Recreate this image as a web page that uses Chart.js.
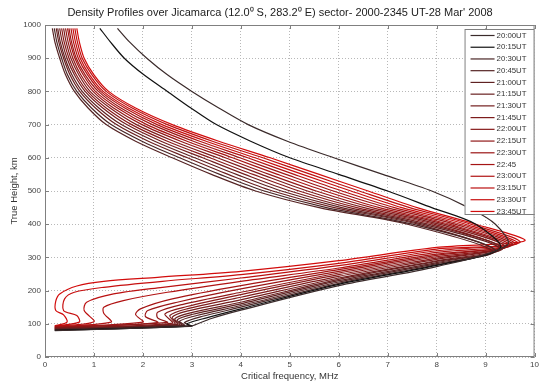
<!DOCTYPE html>
<html>
<head>
<meta charset="utf-8">
<script src="https://cdn.jsdelivr.net/npm/chart.js@4"></script>
<style>
  html, body { margin: 0; padding: 0; background: #fff; }
  #wrap { width: 542px; height: 387px; }
</style>
</head>
<body>
<div id="wrap"><canvas id="chart" width="542" height="387"></canvas></div>
<script>
const chartTitle = 'Density Profiles over Jicamarca (12.0\u2070 S, 283.2\u2070 E) sector- 2000-2345 UT-28 Mar\' 2008';

// Profile times (legend labels)
const times = ['20:00UT', '20:15UT', '20:30UT', '20:45UT', '21:00UT', '21:15UT', '21:30UT', '21:45UT',
    '22:00UT', '22:15UT', '22:30UT', '22:45', '23:00UT', '23:15UT', '23:30UT', '23:45UT'];

const lineColors = ['#3b2b2b', '#111111', '#4a2626', '#552424', '#5f2222', '#692020', '#731e1e', '#7d1c1c',
    '#871a1a', '#911818', '#9b1616', '#a51414', '#b01212', '#bb1010', '#c70e0e', '#d20c0c'];

// Topside: frequency (MHz) read at these heights (km)
const topHeights = [990, 950, 900, 850, 800, 750, 700, 650, 600, 550, 500, 450, 400];
const topFreqs = [
    [1.48, 1.72, 2.08, 2.50, 3.00, 3.55, 4.15, 4.95, 5.90, 6.90, 7.90, 8.65, 9.20],
    [1.12, 1.33, 1.62, 2.02, 2.50, 2.98, 3.50, 4.20, 5.00, 6.00, 7.00, 7.90, 8.80],
    [0.19, 0.24, 0.34, 0.46, 0.65, 0.95, 1.35, 1.98, 2.75, 3.57, 4.48, 5.75, 7.51],
    [0.15, 0.20, 0.30, 0.42, 0.60, 0.88, 1.25, 1.85, 2.60, 3.40, 4.30, 5.60, 7.40],
    [0.26, 0.31, 0.41, 0.55, 0.76, 1.10, 1.56, 2.24, 3.06, 3.91, 4.83, 6.06, 7.72],
    [0.23, 0.28, 0.38, 0.51, 0.71, 1.03, 1.46, 2.11, 2.91, 3.74, 4.65, 5.91, 7.62],
    [0.30, 0.35, 0.45, 0.60, 0.82, 1.18, 1.67, 2.37, 3.22, 4.08, 5.01, 6.22, 7.83],
    [0.38, 0.43, 0.53, 0.69, 0.92, 1.33, 1.87, 2.63, 3.52, 4.42, 5.36, 6.52, 8.05],
    [0.34, 0.39, 0.49, 0.64, 0.87, 1.25, 1.77, 2.50, 3.37, 4.25, 5.19, 6.37, 7.94],
    [0.42, 0.47, 0.57, 0.73, 0.98, 1.40, 1.98, 2.77, 3.68, 4.58, 5.54, 6.68, 8.16],
    [0.49, 0.54, 0.64, 0.82, 1.09, 1.55, 2.19, 3.03, 3.98, 4.92, 5.89, 6.99, 8.37],
    [0.46, 0.51, 0.61, 0.78, 1.03, 1.48, 2.08, 2.90, 3.83, 4.75, 5.72, 6.83, 8.26],
    [0.53, 0.58, 0.68, 0.87, 1.14, 1.63, 2.29, 3.16, 4.14, 5.09, 6.07, 7.14, 8.48],
    [0.61, 0.66, 0.76, 0.96, 1.25, 1.78, 2.50, 3.42, 4.45, 5.43, 6.42, 7.45, 8.70],
    [0.57, 0.62, 0.72, 0.91, 1.19, 1.70, 2.39, 3.29, 4.29, 5.26, 6.25, 7.29, 8.59],
    [0.65, 0.70, 0.80, 1.00, 1.30, 1.85, 2.60, 3.55, 4.60, 5.60, 6.60, 7.60, 8.80]
];

// F-layer peak (foF2, hmF2)
const peakFreqs = [9.45, 9.30, 9.20, 9.15, 9.30, 9.20, 9.35, 9.40, 9.30, 9.45, 9.55, 9.50, 9.60, 9.70, 9.65, 9.80];
const peakHeights = [338, 328, 322, 318, 326, 320, 328, 332, 330, 334, 338, 336, 340, 345, 342, 350];

// Bottomside: height (km) read at these frequencies (MHz)
const bottomFreqs = [8, 6, 4];
const bottomHeights = [
    [272, 215, 141], [276, 219, 145], [278, 222, 150], [281, 226, 155],
    [284, 230, 160], [288, 234, 165], [290, 238, 172], [294, 243, 180],
    [298, 248, 188], [302, 253, 195], [306, 258, 205], [310, 263, 215],
    [315, 268, 228], [320, 275, 238], [325, 282, 248], [330, 290, 258]
];

// Lower E/valley hook and tail of each profile
const hookFreqs = [
    [3.4, 3.05, 2.95, 0.2],
    [3.3, 2.9, 3.0, 0.2],
    [3.2, 2.85, 2.95, 0.2],
    [3.1, 2.75, 2.85, 0.2],
    [3.0, 2.7, 2.8, 0.2],
    [2.95, 2.65, 2.75, 0.2],
    [2.9, 2.6, 2.7, 0.2],
    [2.9, 2.55, 2.65, 0.2],
    [2.9, 2.45, 2.6, 0.2],
    [2.8, 2.3, 2.3, 2.5, 0.2],
    [2.7, 2.1, 2.05, 2.3, 0.2],
    [2.6, 1.95, 1.85, 2.0, 0.2],
    [2.5, 1.6, 1.2, 1.2, 1.35, 0.2],
    [2.4, 1.4, 0.85, 0.8, 1.0, 0.2],
    [2.4, 1.2, 0.6, 0.4, 0.38, 0.65, 0.7, 0.2],
    [2.3, 1.2, 0.65, 0.3, 0.22, 0.22, 0.38, 0.45, 0.2]
];
const hookHeights = [
    [116, 96, 92, 79],
    [118, 100, 93, 80],
    [122, 104, 94, 81],
    [125, 108, 95, 82],
    [128, 112, 96, 83],
    [132, 115, 97, 84],
    [138, 120, 98, 85],
    [145, 125, 100, 86],
    [152, 130, 102, 87],
    [158, 135, 118, 104, 88],
    [165, 140, 122, 104, 89],
    [175, 145, 128, 105, 90],
    [195, 170, 150, 132, 105, 91],
    [210, 190, 165, 140, 106, 92],
    [228, 210, 195, 175, 140, 125, 105, 93],
    [240, 228, 214, 190, 168, 140, 127, 105, 94]
];

const xTicks = [0, 1, 2, 3, 4, 5, 6, 7, 8, 9, 10];
const yTicks = [0, 100, 200, 300, 400, 500, 600, 700, 800, 900, 1000];

// Build one profile (top -> peak -> bottomside -> hook)
function buildProfile(k) {
    const pts = [];
    topHeights.forEach((h, i) => pts.push({ x: topFreqs[k][i], y: h }));
    pts.push({ x: peakFreqs[k], y: peakHeights[k] });
    bottomFreqs.forEach((f, i) => pts.push({ x: f, y: bottomHeights[k][i] }));
    hookFreqs[k].forEach((f, i) => pts.push({ x: f, y: hookHeights[k][i] }));
    return pts;
}

const datasets = times.map((t, k) => ({
    label: t,
    data: buildProfile(k),
    showLine: true,
    borderColor: lineColors[k],
    backgroundColor: lineColors[k],
    borderWidth: 1.2,
    pointRadius: 0,
    tension: 0.3,
    fill: false
}));

const FONT = '"Liberation Sans", Arial, sans-serif';

// Title, centred a bit left of the plot like the original
const titlePlugin = {
    id: 'titlePlugin',
    afterDraw(chart) {
        const ctx = chart.ctx;
        ctx.save();
        ctx.font = '11px ' + FONT;
        ctx.fillStyle = '#222222';
        ctx.textAlign = 'center';
        ctx.textBaseline = 'middle';
        ctx.fillText(chartTitle, 280, 13);
        ctx.restore();
    }
};

// Box around the axes with inward tick marks (matlab style)
const axesFrame = {
    id: 'axesFrame',
    afterDatasetsDraw(chart) {
        const { ctx, chartArea: a, scales } = chart;
        ctx.save();
        ctx.strokeStyle = '#808080';
        ctx.lineWidth = 1;
        ctx.strokeRect(a.left + 0.5, a.top + 0.5, a.right - a.left - 1, a.bottom - a.top - 1);
        ctx.beginPath();
        xTicks.forEach(v => {
            const px = Math.round(scales.x.getPixelForValue(v)) + 0.5;
            ctx.moveTo(px, a.bottom); ctx.lineTo(px, a.bottom - 4);
            ctx.moveTo(px, a.top); ctx.lineTo(px, a.top + 4);
        });
        yTicks.forEach(v => {
            const py = Math.round(scales.y.getPixelForValue(v)) + 0.5;
            ctx.moveTo(a.left, py); ctx.lineTo(a.left + 4, py);
            ctx.moveTo(a.right, py); ctx.lineTo(a.right - 4, py);
        });
        ctx.stroke();
        ctx.restore();
    }
};

// Legend box drawn inside the plot, top right
const legendBox = {
    id: 'legendBox',
    afterDatasetsDraw(chart) {
        const { ctx, chartArea: a } = chart;
        const left = a.right - 70, top = a.top + 4, bottom = top + 185;
        const step = 11.73;
        ctx.save();
        ctx.fillStyle = '#ffffff';
        ctx.fillRect(left, top, a.right - left, bottom - top);
        ctx.strokeStyle = '#808080';
        ctx.lineWidth = 1;
        ctx.strokeRect(left + 0.5, top + 0.5, a.right - left - 1, bottom - top);
        ctx.font = '7.8px ' + FONT;
        ctx.textBaseline = 'middle';
        times.forEach((t, k) => {
            const y = top + 6.5 + k * step;
            ctx.strokeStyle = lineColors[k];
            ctx.lineWidth = 1.2;
            ctx.beginPath();
            ctx.moveTo(left + 6, y);
            ctx.lineTo(left + 30, y);
            ctx.stroke();
            ctx.fillStyle = '#333333';
            ctx.fillText(t, left + 32, y);
        });
        ctx.restore();
    }
};

function initChart() {
    const ctx = document.getElementById('chart').getContext('2d');
    new Chart(ctx, {
        type: 'scatter',
        data: { datasets: datasets },
        options: {
            responsive: false,
            animation: false,
            layout: { padding: { left: 0, right: 5, top: 25, bottom: 0 } },
            plugins: {
                legend: { display: false },
                tooltip: { enabled: false },
                title: { display: false }
            },
            scales: {
                x: {
                    type: 'linear',
                    min: 0,
                    max: 10,
                    afterBuildTicks: scale => { scale.ticks = xTicks.map(v => ({ value: v })); },
                    afterFit: scale => { scale.height = 30; },
                    grid: { color: '#b8b8b8', drawTicks: false, lineWidth: 1 },
                    border: { display: false, dash: [1, 2] },
                    ticks: {
                        color: '#444444',
                        padding: 3,
                        font: { family: FONT, size: 8 },
                        callback: v => String(v)
                    },
                    title: {
                        display: true,
                        text: 'Critical frequency, MHz',
                        color: '#333333',
                        padding: { top: 0, bottom: 5 },
                        font: { family: FONT, size: 9.5 }
                    }
                },
                y: {
                    type: 'linear',
                    min: 0,
                    max: 1000,
                    afterBuildTicks: scale => { scale.ticks = yTicks.map(v => ({ value: v })); },
                    afterFit: scale => { scale.width = 45; },
                    grid: { color: '#b8b8b8', drawTicks: false, lineWidth: 1 },
                    border: { display: false, dash: [1, 2] },
                    ticks: {
                        color: '#444444',
                        padding: 4,
                        font: { family: FONT, size: 8 },
                        callback: v => String(v)
                    },
                    title: {
                        display: true,
                        text: 'True Height, km',
                        color: '#333333',
                        padding: { top: 9, bottom: 0 },
                        font: { family: FONT, size: 9.5 }
                    }
                }
            }
        },
        plugins: [axesFrame, legendBox, titlePlugin]
    });
}

document.addEventListener('DOMContentLoaded', initChart);
</script>
</body>
</html>
